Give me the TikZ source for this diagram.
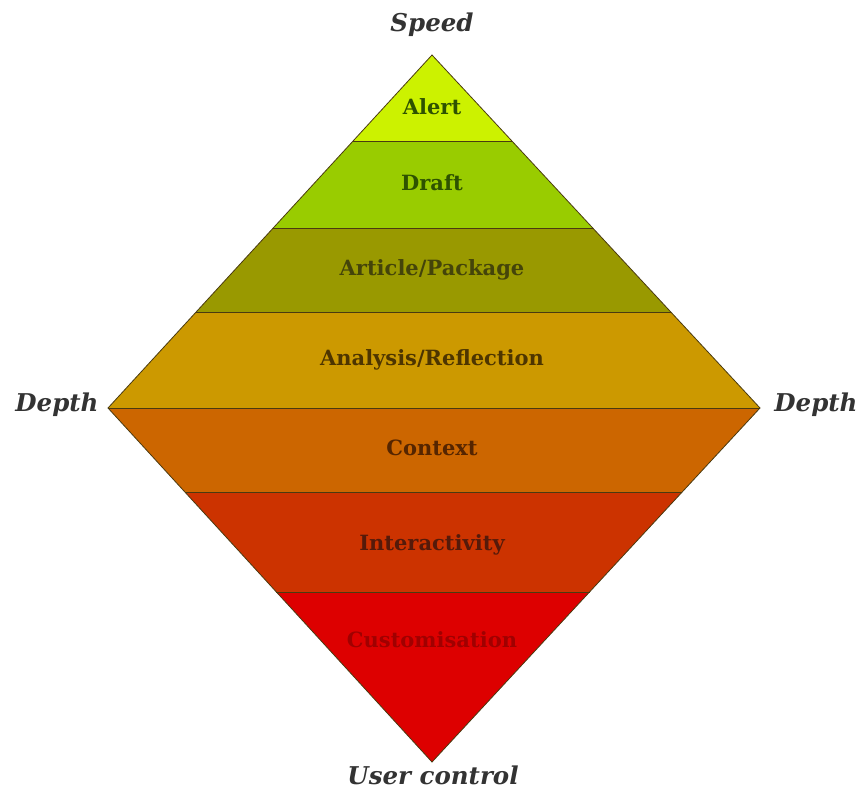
\documentclass[tikz,border=0pt]{standalone}
\usepackage{fontspec}
\setmainfont{DejaVu Serif}
\definecolor{cAlert}{HTML}{CCF200}
\definecolor{cDraft}{HTML}{99CC00}
\definecolor{cArticle}{HTML}{999900}
\definecolor{cAnalysis}{HTML}{CC9900}
\definecolor{cContext}{HTML}{CC6600}
\definecolor{cInter}{HTML}{CC3300}
\definecolor{cCustom}{HTML}{DD0000}
\definecolor{tGreen}{HTML}{2E5200}
\definecolor{tOlive}{HTML}{44440A}
\definecolor{tBrown}{HTML}{4D3500}
\definecolor{tRust}{HTML}{552500}
\definecolor{tRed}{HTML}{551A0A}
\definecolor{tDeep}{HTML}{A00000}
\definecolor{edge}{HTML}{4A3A10}
\definecolor{axis}{HTML}{333333}
\tikzset{
  band/.style={draw=edge, line width=0.8pt, line join=miter},
  bandtext/.style={font=\bfseries\fontsize{21}{24}\selectfont, inner sep=0pt},
  axislabel/.style={font=\bfseries\itshape\fontsize{24.5}{28}\selectfont, text=axis, inner sep=0pt}
}
\begin{document}
\begin{tikzpicture}[x=1pt, y=-1pt]
\useasboundingbox (0,0) rectangle (861,789);
\coordinate (top) at (432,55);
\coordinate (left) at (108,408);
\coordinate (right) at (760,408);
\coordinate (bottom) at (432,762);
% bands
\fill[cAlert] (top) -- (511.9,141) -- (353.1,141) -- cycle;
\fill[cDraft] (353.1,141) -- (511.9,141) -- (592.7,228) -- (273.2,228) -- cycle;
\fill[cArticle] (273.2,228) -- (592.7,228) -- (670.8,312) -- (196.1,312) -- cycle;
\fill[cAnalysis] (196.1,312) -- (670.8,312) -- (right) -- (left) -- cycle;
\fill[cContext] (left) -- (right) -- (682.2,492) -- (184.9,492) -- cycle;
\fill[cInter] (184.9,492) -- (682.2,492) -- (589.5,592) -- (276.4,592) -- cycle;
\fill[cCustom] (276.4,592) -- (589.5,592) -- (bottom) -- cycle;
% separators and outline
\draw[band] (353.1,141) -- (511.9,141);
\draw[band] (273.2,228) -- (592.7,228);
\draw[band] (196.1,312) -- (670.8,312);
\draw[band] (left) -- (right);
\draw[band] (184.9,492) -- (682.2,492);
\draw[band] (276.4,592) -- (589.5,592);
\draw[band] (top) -- (right) -- (bottom) -- (left) -- cycle;
% band labels
\node[bandtext, text=tGreen] (alert) at (432,107) {Alert};
\node[bandtext, text=tGreen] (draft) at (432,183) {Draft};
\node[bandtext, text=tOlive] (article) at (432,270) {Article/Package};
\node[bandtext, text=tBrown] (analysis) at (432,360) {Analysis/Reflection};
\node[bandtext, text=tRust] (context) at (432,448) {Context};
\node[bandtext, text=tRed] (inter) at (432,545) {Interactivity};
\node[bandtext, text=tDeep] (custom) at (432,640) {Customisation};
% axis labels
\node[axislabel] (speed) at (432,25) {Speed};
\node[axislabel] (depthl) at (57,405) {Depth};
\node[axislabel] (depthr) at (816,405) {Depth};
\node[axislabel] (user) at (433,775) {User control};
\end{tikzpicture}
\end{document}
